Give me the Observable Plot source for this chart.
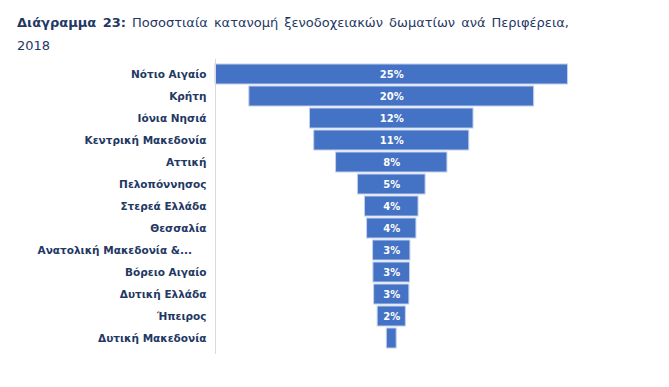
<!DOCTYPE html>
<html>
<head>
<meta charset="utf-8">
<script src="https://cdn.jsdelivr.net/npm/d3@7"></script>
<script src="https://cdn.jsdelivr.net/npm/@observablehq/plot@0.6"></script>
<style>
  html, body { margin: 0; padding: 0; background: #fff; }
  #wrap { width: 669px; height: 387px; overflow: hidden; }
  #title { height: 57px; box-sizing: border-box; padding: 11px 0 0 17px; font-family: "DejaVu Sans", sans-serif; font-size: 13px; line-height: 23px; color: #1f3864; }
  #title .l1 { width: 552px; text-align: justify; text-align-last: justify; }
  #title b { font-weight: bold; }
  svg { display: block; }
</style>
</head>
<body>
<div id="wrap">
  <div id="title">
    <div class="l1"><b>Διάγραμμα 23:</b> Ποσοστιαία κατανομή ξενοδοχειακών δωματίων ανά Περιφέρεια,</div>
    <div>2018</div>
  </div>
  <div id="chart"></div>
</div>
<script>
const regions = [
  "Νότιο Αιγαίο",
  "Κρήτη",
  "Ιόνια Νησιά",
  "Κεντρική Μακεδονία",
  "Αττική",
  "Πελοπόννησος",
  "Στερεά Ελλάδα",
  "Θεσσαλία",
  "Ανατολική Μακεδονία &...",
  "Βόρειο Αιγαίο",
  "Δυτική Ελλάδα",
  "Ήπειρος",
  "Δυτική Μακεδονία"
];
const shares = [25.0, 20.2, 11.6, 11.0, 7.9, 4.8, 3.8, 3.5, 2.65, 2.6, 2.5, 2.0, 0.7];

const data = regions.map((r, i) => ({region: r, value: shares[i]}));
const maxV = d3.max(shares);

const chart = Plot.plot({
  width: 669,
  height: 330,
  marginLeft: 215,
  marginRight: 101.5,
  marginTop: 2,
  marginBottom: 33,
  style: {fontFamily: "DejaVu Sans, sans-serif", background: "#fff"},
  x: {domain: [-maxV / 2, maxV / 2], axis: null},
  y: {domain: regions, paddingInner: 0.07, paddingOuter: 0.035, label: null},
  marks: [
    Plot.barX(data, {
      y: "region",
      x1: d => -d.value / 2,
      x2: d => d.value / 2,
      fill: "#4472c4",
      stroke: "#c3d1ec",
      strokeWidth: 1
    }),
    Plot.ruleX([-maxV / 2], {stroke: "#d9d9d9", strokeWidth: 1}),
    Plot.text(data.filter(d => d.value >= 1.5), {
      x: 0,
      y: "region",
      text: d => Math.round(d.value) + "%",
      fill: "white",
      fontWeight: "bold",
      fontSize: 10
    }),
    Plot.axisY({
      tickSize: 0,
      tickPadding: 9,
      fontSize: 10.5,
      fontWeight: "bold",
      fill: "#1f3864",
      tickFormat: d => d.endsWith("...") ? d + "\u2007\u2007" : d
    })
  ]
});
document.getElementById("chart").appendChild(chart);
</script>
</body>
</html>
